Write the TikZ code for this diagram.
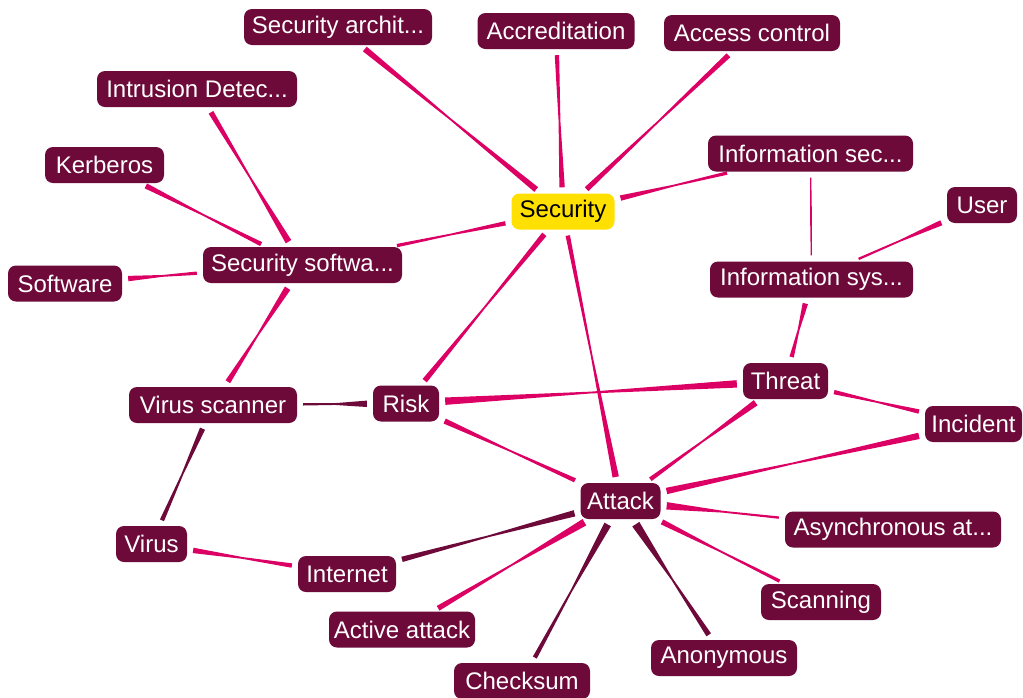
\documentclass[tikz,border=0pt]{standalone}
\usepackage{fontspec}
\setmainfont{Liberation Sans}
\usetikzlibrary{calc,backgrounds}

\definecolor{nodefill}{HTML}{6E0A3A}
\definecolor{linkpink}{HTML}{DC0064}
\definecolor{linkdark}{HTML}{6E0A3A}
\definecolor{hubyellow}{HTML}{FFE000}

\tikzset{
  concept/.style={rectangle, rounded corners=8pt, fill=nodefill, text=white,
    font=\fontsize{24}{28}\selectfont, minimum height=36pt,
    inner xsep=0pt, inner ysep=0pt},
  hub/.style={concept, fill=hubyellow, text=black},
}

% Tapered link between two named nodes: #1 and #2 are the nodes,
% #3 and #4 the half widths (pt) at each end, #5 the colour.
\newcommand\taperlink[5]{%
  \path (#1) -- coordinate[pos=0] (ea) coordinate[pos=1] (eb) (#2);
  \coordinate (pa) at ($(ea)!6pt!(eb)$);
  \coordinate (pb) at ($(eb)!6pt!(ea)$);
  \coordinate (pm) at ($(pa)!0.5!(pb)$);
  \fill[#5] ($(pa)!#3pt!90:(pb)$) -- ($(pm)!0.9pt!90:(pb)$)
    -- ($(pb)!#4pt!-90:(pa)$) -- ($(pb)!#4pt!90:(pa)$)
    -- ($(pm)!0.9pt!-90:(pb)$) -- ($(pa)!#3pt!-90:(pb)$) -- cycle;
}

\begin{document}
\begin{tikzpicture}[x=1pt, y=-1pt]
\useasboundingbox (0,0) rectangle (1023,697);

% concepts
\node[concept, minimum width=188] (secarch)  at (338,27)    {Security archit...};
\node[concept, minimum width=157] (accred)   at (556,31)    {Accreditation};
\node[concept, minimum width=176] (access)   at (752,33)    {Access control};
\node[concept, minimum width=200] (intrus)   at (197,89)    {Intrusion Detec...};
\node[concept, minimum width=119] (kerberos) at (104.5,165) {Kerberos};
\node[concept, minimum width=205] (infosec)  at (810.5,153.5) {Information sec...};
\node[hub,     minimum width=103] (security) at (563,211.5) {Security};
\node[concept, minimum width=70]  (user)     at (982,205)   {User};
\node[concept, minimum width=199] (secsoft)  at (302.5,265) {Security softwa...};
\node[concept, minimum width=114] (software) at (65,283.5)  {Software};
\node[concept, minimum width=203] (infosys)  at (811.5,279.5) {Information sys...};
\node[concept, minimum width=85]  (threat)   at (785.5,381) {Threat};
\node[concept, minimum width=168] (vscan)    at (213,405)   {Virus scanner};
\node[concept, minimum width=66]  (risk)     at (406,403.5) {Risk};
\node[concept, minimum width=97]  (incident) at (973.5,424) {Incident};
\node[concept, minimum width=80]  (attack)   at (620.5,501) {Attack};
\node[concept, minimum width=216] (async)    at (893,529.5) {Asynchronous at...};
\node[concept, minimum width=71]  (virus)    at (151.5,544) {Virus};
\node[concept, minimum width=98]  (internet) at (347,574)   {Internet};
\node[concept, minimum width=120] (scanning) at (821,602)   {Scanning};
\node[concept, minimum width=146] (active)   at (402,629.5) {Active attack};
\node[concept, minimum width=146] (anon)     at (724,658)   {Anonymous};
\node[concept, minimum width=136] (checksum) at (522,681)   {Checksum};

% links, kept behind the concepts
\begin{pgfonlayer}{background}
\fill[white] (0,0) rectangle (1023,697);
\taperlink{secarch}{security}{3}{3}{linkpink}
\taperlink{accred}{security}{2.2}{2.7}{linkpink}
\taperlink{access}{security}{2.7}{2.7}{linkpink}
\taperlink{infosec}{security}{1.7}{2.7}{linkpink}
\taperlink{secsoft}{security}{1.7}{2.2}{linkpink}
\taperlink{risk}{security}{2.7}{2.7}{linkpink}
\taperlink{security}{attack}{2.2}{3.2}{linkpink}
\taperlink{infosec}{infosys}{0.6}{0.6}{linkpink}
\taperlink{user}{infosys}{2.7}{1.2}{linkpink}
\taperlink{infosys}{threat}{2.7}{2.2}{linkpink}
\taperlink{intrus}{secsoft}{2.7}{3.2}{linkpink}
\taperlink{kerberos}{secsoft}{2.7}{2.2}{linkpink}
\taperlink{software}{secsoft}{2.7}{1.7}{linkpink}
\taperlink{secsoft}{vscan}{3.2}{2.7}{linkpink}
\taperlink{vscan}{risk}{1.2}{3.2}{linkdark}
\taperlink{vscan}{virus}{2.7}{2.2}{linkdark}
\taperlink{risk}{threat}{3.7}{3.7}{linkpink}
\taperlink{risk}{attack}{2.7}{2.2}{linkpink}
\taperlink{threat}{incident}{2.2}{2.2}{linkpink}
\taperlink{threat}{attack}{3.2}{2.2}{linkpink}
\taperlink{incident}{attack}{3.2}{3.2}{linkpink}
\taperlink{attack}{async}{3.7}{1.2}{linkpink}
\taperlink{attack}{scanning}{2.7}{1.7}{linkpink}
\taperlink{attack}{anon}{4.2}{2.7}{linkdark}
\taperlink{attack}{checksum}{3.7}{2.2}{linkdark}
\taperlink{attack}{active}{3.7}{2.7}{linkpink}
\taperlink{attack}{internet}{3.2}{2.7}{linkdark}
\taperlink{internet}{virus}{2.2}{2.7}{linkpink}
\end{pgfonlayer}
\end{tikzpicture}
\end{document}
